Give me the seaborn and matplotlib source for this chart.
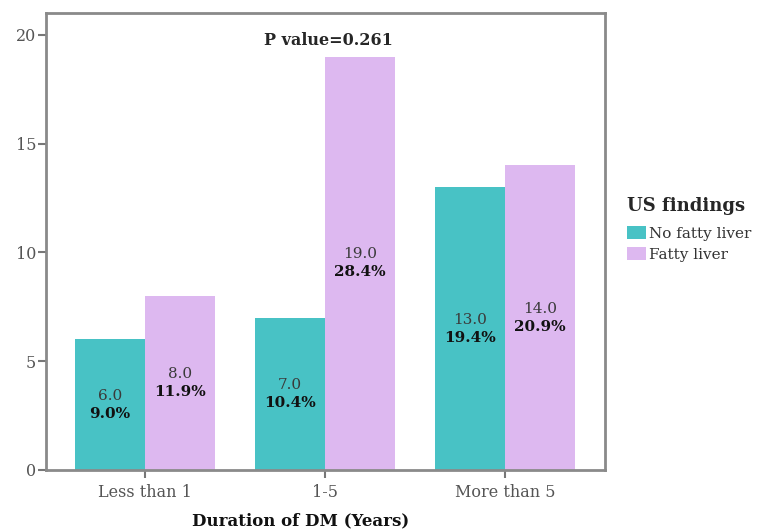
import matplotlib
matplotlib.use("Agg")
import matplotlib.pyplot as plt
import pandas as pd
import seaborn as sns

durations = ["Less than 1", "1-5", "More than 5"]
findings = ["No fatty liver", "Fatty liver"]
no_fatty = [6.0, 7.0, 13.0]
fatty = [8.0, 19.0, 14.0]
no_fatty_pct = [9.0, 10.4, 19.4]
fatty_pct = [11.9, 28.4, 20.9]
p_value = "P value=0.261"

colors = ["#48C2C5", "#DDB8F0"]

df = pd.DataFrame({
    "duration": durations * 2,
    "finding": [findings[0]] * 3 + [findings[1]] * 3,
    "count": no_fatty + fatty,
})

sns.set_style("white")
plt.rcParams["font.family"] = ["DejaVu Serif"]

fig = plt.figure(figsize=(7.63, 5.31), dpi=100)
ax = fig.add_axes([46 / 763, 61 / 531, 559 / 763, 457 / 531])

sns.barplot(
    data=df, x="duration", y="count", hue="finding",
    order=durations, hue_order=findings, palette=colors,
    width=0.78, gap=0, linewidth=0, saturation=1, ax=ax,
)

ax.set_xlim(-0.55, 2.556)
ax.set_ylim(0, 21)
ax.set_yticks([0, 5, 10, 15, 20])

# count + percent labels centred in each bar
pcts = [no_fatty_pct, fatty_pct]
for cont, pct in zip(ax.containers, pcts):
    for bar, p in zip(cont, pct):
        xc = bar.get_x() + bar.get_width() / 2
        h = bar.get_height()
        ax.annotate(f"{h:.1f}", (xc, h / 2), xytext=(0, 6.5), textcoords="offset points",
                    ha="center", va="center", fontsize=11, color="#3a3a3a")
        ax.annotate(f"{p:.1f}%", (xc, h / 2), xytext=(0, -6.5), textcoords="offset points",
                    ha="center", va="center", fontsize=11, fontweight="bold", color="#111111")

ax.text(1.02, 19.75, p_value, ha="center", va="center", fontsize=11.5, fontweight="bold")

for s in ax.spines.values():
    s.set_color("#8a8a8a")
    s.set_linewidth(2)

ax.tick_params(axis="both", which="both", direction="out", length=6, width=1.5,
               color="#777777", labelcolor="#555555", labelsize=11.5,
               left=True, bottom=True)
ax.tick_params(axis="y", pad=1)
ax.tick_params(axis="x", pad=4)

ax.set_ylabel("")
ax.set_xlabel("Duration of DM (Years)", fontsize=12, fontweight="bold", color="#111111")
ax.xaxis.set_label_coords(0.455, -0.092)

leg = ax.legend(title="US findings", loc="upper left", bbox_to_anchor=(0.818, 0.635),
                bbox_transform=fig.transFigure, frameon=False, fontsize=11,
                title_fontsize=13, handlelength=1.2, handleheight=0.9,
                handletextpad=0.25, labelspacing=0.45, alignment="left", borderaxespad=0,
                borderpad=0.2)
leg.get_title().set_fontweight("bold")
leg._legend_box.sep = 8
for t in leg.get_texts():
    t.set_color("#333333")

fig.savefig("out.png", dpi=100)
